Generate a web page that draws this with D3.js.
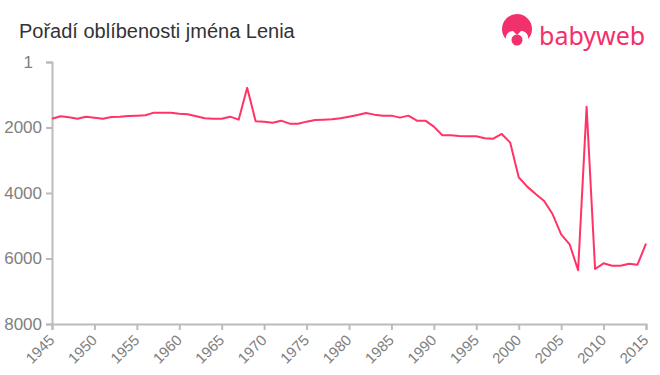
<!DOCTYPE html>
<html><head><meta charset="utf-8">
<script src="https://cdn.jsdelivr.net/npm/d3@7"></script>
<style>body{margin:0;background:#fff;font-family:"Liberation Sans",Arial,sans-serif;}</style>
</head><body>
<svg id="c" width="660" height="375"></svg>
<script>
const title = "Pořadí oblíbenosti jména Lenia";
const years = d3.range(1945, 2016);
const ranks = [1731,1659,1690,1731,1670,1700,1731,1680,1670,1650,1639,1628,1547,1547,1547,1578,1598,1659,1720,1731,
 1731,1670,1761,790,1812,1822,1853,1792,1884,1884,1822,1771,1761,1750,1720,1670,1619,1558,1608,1639,
 1639,1700,1639,1792,1792,1975,2239,2239,2260,2270,2270,2331,2341,2198,2463,3521,3806,4030,4244,4650,
 5261,5566,6360,1370,6321,6147,6220,6220,6158,6189,5548];
const yTicks = [1,2000,4000,6000,8000];
const xTicks = d3.range(1945, 2016, 5);

const svg = d3.select("#c");
const x = d3.scaleLinear().domain([1945,2015]).range([52,646]);
const y = d3.scaleLinear().domain([1,8000]).range([62,324]);

svg.append("text").attr("x",19).attr("y",38).attr("fill","#333")
  .style("font-size","20px").text(title);

// logo
const lg = svg.append("g");
lg.append("circle").attr("cx",517).attr("cy",29).attr("r",15).attr("fill","#f2306b");
lg.append("path").attr("d","M505,46 L506,36 Q508,31 513,31 L517,35 L521,31 Q526,31 528,36 L529,46 Z").attr("fill","#fff");
lg.append("circle").attr("cx",517).attr("cy",40).attr("r",5.5).attr("fill","#f2306b");
lg.append("text").attr("x",539).attr("y",45).attr("fill","#f2306b")
  .style("font-size","25px").style("font-family","'Noto Sans',sans-serif").text("babyweb");

// axes
const ya = svg.append("g").attr("transform","translate(52,0)")
  .call(d3.axisLeft(y).tickValues(yTicks).tickFormat(d3.format("d")).tickSize(6).tickPadding(4));
const xa = svg.append("g").attr("transform","translate(0,324)")
  .call(d3.axisBottom(x).tickValues(xTicks).tickFormat(d3.format("d")).tickSize(6));
[ya,xa].forEach(a=>{
  a.select(".domain").attr("stroke","#bbb").attr("stroke-width",2);
  a.selectAll(".tick line").attr("stroke","#bbb").attr("stroke-width",2);
  a.selectAll("text").attr("fill","#808080").style("font-family","'Liberation Sans',Arial,sans-serif");
});
ya.selectAll("text").style("font-size","17px");
ya.selectAll(".tick text").filter(d=>d===1).attr("dx","-9px");
xa.selectAll("text").style("font-size","15px")
  .attr("text-anchor","end").attr("x",0).attr("y",0).attr("dy",0)
  .attr("transform","translate(3,17) rotate(-45)");

const line = d3.line().x((d,i)=>x(years[i])).y(d=>y(d));
svg.append("path").datum(ranks).attr("d",line).attr("fill","none")
  .attr("stroke","#ff3366").attr("stroke-width",2).attr("stroke-linejoin","round");
</script>
</body></html>
